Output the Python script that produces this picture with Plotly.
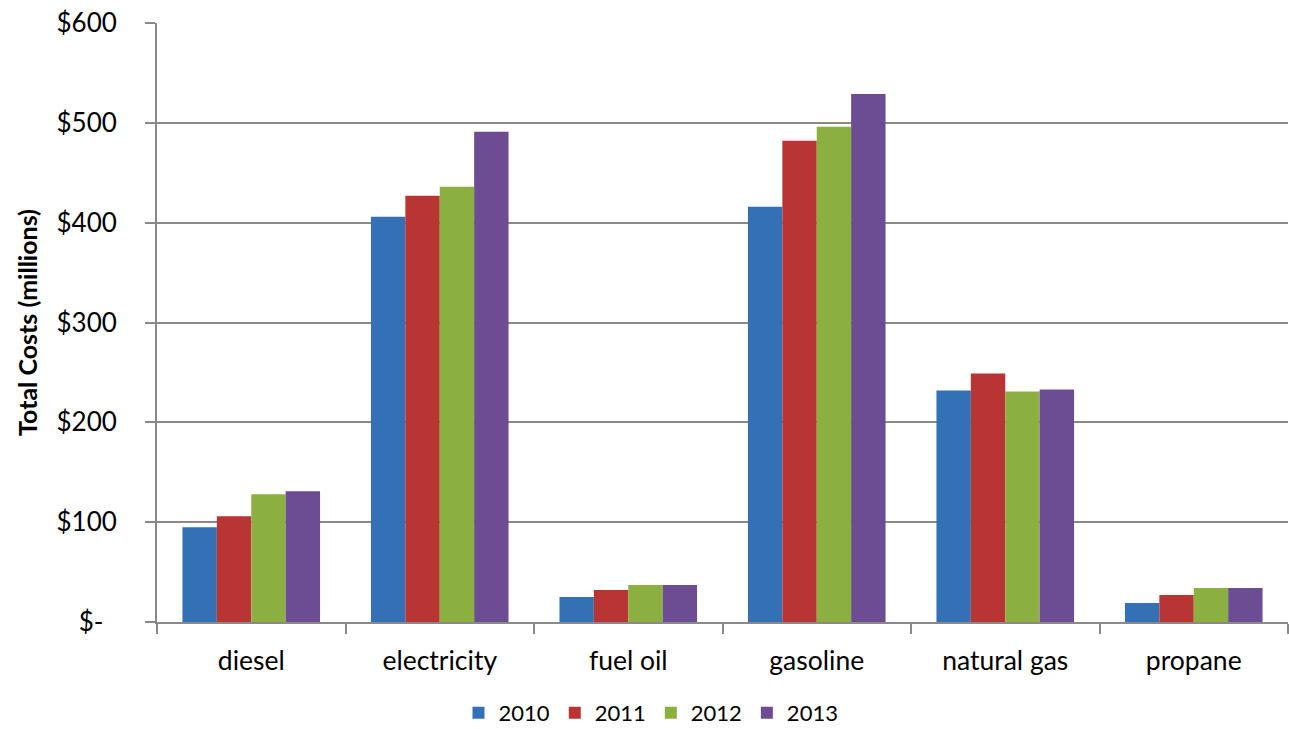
import plotly.graph_objects as go

categories = ["diesel", "electricity", "fuel oil", "gasoline", "natural gas", "propane"]
years = ["2010", "2011", "2012", "2013"]
values_2010 = [95, 406, 25, 416, 232, 19]
values_2011 = [106, 427, 32, 482, 249, 27]
values_2012 = [128, 436, 37, 496, 231, 34]
values_2013 = [131, 491, 37, 529, 233, 34]
series = [values_2010, values_2011, values_2012, values_2013]
colors = ["#3470B6", "#B93533", "#8BB03F", "#6C4C93"]
tick_vals = [0, 100, 200, 300, 400, 500, 600]
tick_text = ["$-\u00a0\u00a0", "$100", "$200", "$300", "$400", "$500", "$600"]

FONT = "Lato, Carlito, Calibri, sans-serif"

fig = go.Figure()
for name, vals, col in zip(years, series, colors):
    fig.add_trace(go.Bar(name=name, x=categories, y=vals, marker=dict(color=col, line=dict(width=0))))

fig.update_layout(
    width=1289, height=729,
    margin=dict(l=157, r=1, t=23, b=107, autoexpand=False),
    paper_bgcolor="white", plot_bgcolor="white",
    barmode="group", bargap=0.27, bargroupgap=0,
    font=dict(family=FONT, color="#000000", size=26),
    showlegend=True,
    legend=dict(orientation="h", xref="container", x=651 / 1289, xanchor="center",
                yref="container", y=(729 - 713) / 729, yanchor="middle",
                font=dict(size=22, family=FONT),
                itemwidth=30, traceorder="normal"),
)
fig.update_xaxes(
    type="category", showline=True, linecolor="#898989", linewidth=2,
    ticks="outside", tickson="boundaries", ticklen=10, tickcolor="#898989", tickwidth=2,
    showgrid=False, tickfont=dict(size=26.5, family=FONT), ticklabelstandoff=14,
    automargin=False,
)
fig.update_yaxes(
    range=[0, 600], tickvals=tick_vals, ticktext=tick_text,
    showline=True, linecolor="#898989", linewidth=2,
    ticks="outside", ticklen=10, tickcolor="#898989", tickwidth=2,
    showgrid=True, gridcolor="#898989", gridwidth=2, zeroline=False,
    tickfont=dict(size=26, family=FONT), ticklabelstandoff=23,
    title=dict(text="<b>Total Costs (millions)</b>", font=dict(size=25, family=FONT), standoff=12),
    automargin=False,
)

fig.write_html("out.html")
